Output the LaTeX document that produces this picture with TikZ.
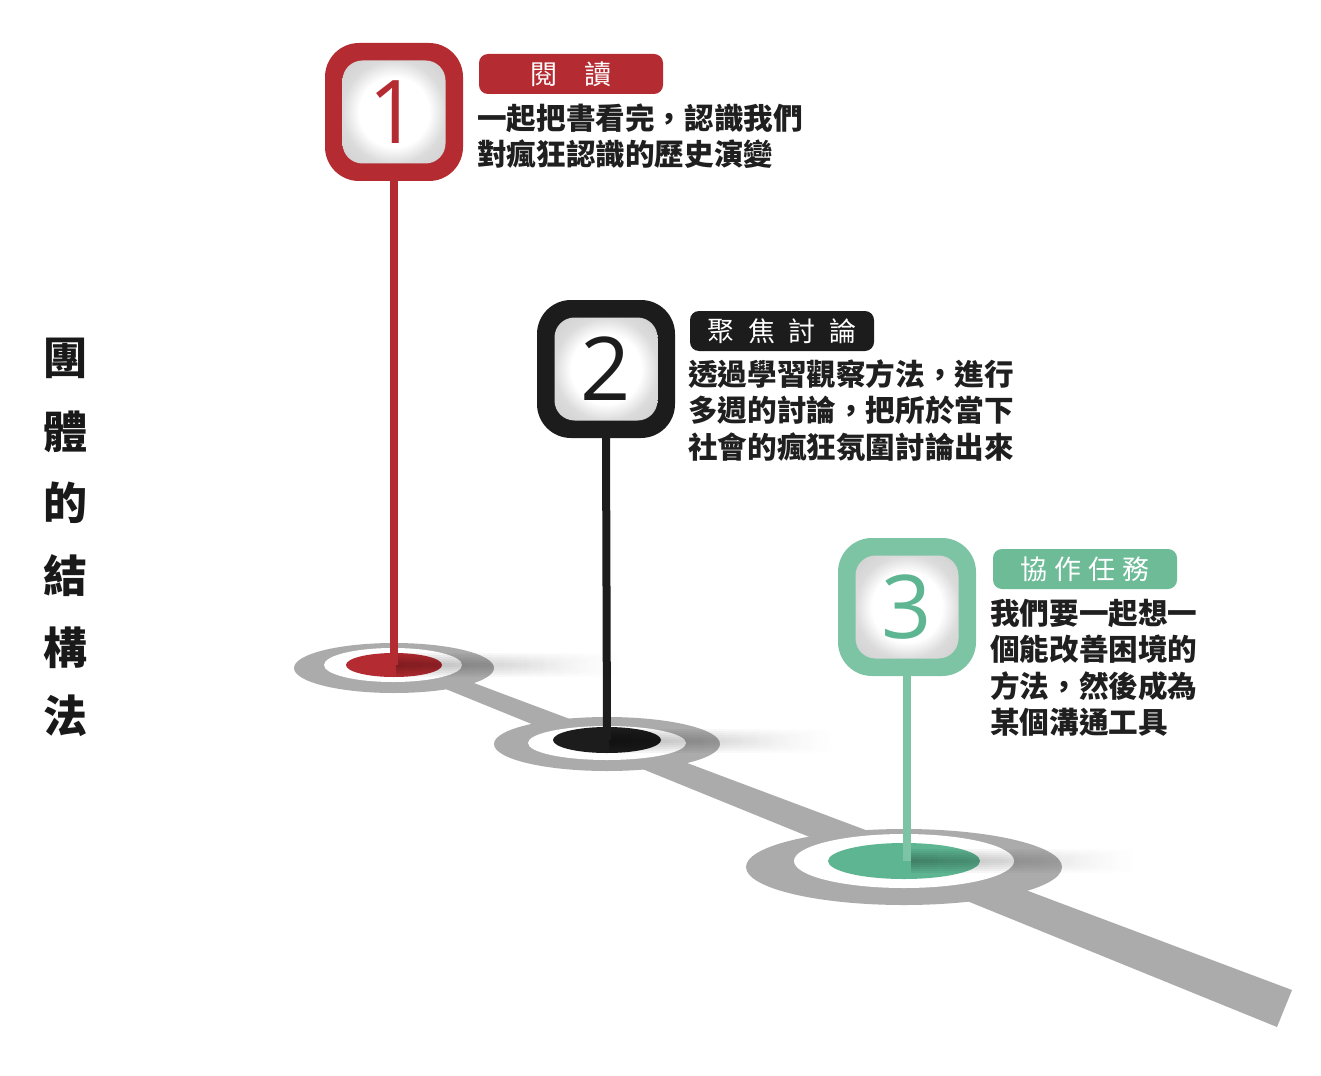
\documentclass[tikz,border=0pt]{standalone}
\usepackage{fontspec}
\setmainfont{Noto Sans CJK TC}
\newfontfamily\numfont{Open Sans}
\usetikzlibrary{fadings}
\definecolor{redA}{HTML}{B42B31}
\definecolor{blackA}{HTML}{1C1C1C}
\definecolor{greenBox}{HTML}{7CC4A4}
\definecolor{greenLab}{HTML}{6DBB97}
\definecolor{greenDisk}{HTML}{5DB592}
\definecolor{ringGray}{HTML}{ABABAB}
\pgfdeclareradialshading{pillow}{\pgfpoint{0bp}{0bp}}{color(0bp)=(white); color(17bp)=(white); color(25bp)=(black!14); color(50bp)=(black!26)}
\tikzset{
  pinbox/.style={rounded corners=34pt, minimum size=138pt, inner sep=0pt},
  face/.style={rounded corners=20pt, minimum size=103pt, inner sep=0pt, shading=pillow,
    font=\numfont\fontsize{88}{88}\selectfont},
  stemline/.style={line width=8pt},
  lab/.style={rounded corners=9pt, minimum width=184pt, minimum height=40pt, inner sep=0pt,
    text=white, font=\fontsize{27}{27}\selectfont},
  desc/.style={anchor=base west, inner sep=0pt, font=\bfseries\fontsize{29.6}{36}\selectfont, text=black!88},
  titlech/.style={inner sep=0pt, font=\bfseries\fontsize{44}{44}\selectfont, text=black!90},
  ring/.style={fill=ringGray},
  shad/.style={fill=black, path fading=east, opacity=0.05},
}
\begin{document}
\begin{tikzpicture}[x=1pt,y=-1pt]
\useasboundingbox (0,0) rectangle (1321,1075);

% base coordinates
\coordinate (b1) at (394,665);
\coordinate (b2) at (607,740);
\coordinate (b3) at (907,861);

% grey track
\fill[ringGray] (394,653) -- (1292,990) -- (1277,1027) -- (394,668) -- cycle;

% base 1
\fill[ring] (394,668) ellipse [x radius=100, y radius=25];
\fill[white] (393,665) ellipse [x radius=69, y radius=17];
\fill[redA] (b1) ellipse [x radius=48, y radius=12];
% base 2
\fill[ring] (607,744) ellipse [x radius=113, y radius=27];
\fill[white] (607,743) ellipse [x radius=79, y radius=17];
\fill[blackA] (b2) ellipse [x radius=54, y radius=13];
% base 3
\fill[ring] (904,867) ellipse [x radius=158, y radius=38];
\fill[white] (904,861) ellipse [x radius=110, y radius=27];
\fill[greenDisk] (904,861) ellipse [x radius=76, y radius=18];

% soft shadows
\foreach \h/\l in {12/230, 10/225, 8/215, 6/200, 4/185, 2/165}{
  \fill[shad] (396,665-\h) rectangle (396+\l,665+\h);
  \fill[shad] (609,741-\h) rectangle (609+\l,741+\h);
  \fill[shad] (911,861-\h) rectangle (911+\l,861+\h);
}

% pins
\node[pinbox, fill=redA] (p1) at (394,112) {};
\node[pinbox, fill=blackA] (p2) at (606,369) {};
\node[pinbox, fill=greenBox] (p3) at (907,607) {};

\draw[stemline, redA] (p1.south) -- (b1);
\draw[stemline, blackA] (p2.south) -- (b2);
\draw[stemline, greenBox] (p3.south) -- (b3);

\node[face, text=redA] (f1) at (p1) {1};
\node[face, text=blackA] (f2) at (p2) {2};
\node[face, text=greenDisk] (f3) at (p3) {3};

% labels
\node[lab, fill=redA] (l1) at (571,74) {閱　讀};
\node[lab, fill=blackA] (l2) at (782,331) {聚\hspace{0.5em}焦\hspace{0.5em}討\hspace{0.5em}論};
\node[lab, fill=greenLab] (l3) at (1085,569) {協\hspace{0.25em}作\hspace{0.25em}任\hspace{0.25em}務};

% descriptions
\node[desc] (d1a) at (477,130) {一起把書看完，認識我們};
\node[desc] (d1b) at (477,166) {對瘋狂認識的歷史演變};

\node[desc] (d2a) at (688,385) {透過學習觀察方法，進行};
\node[desc] (d2b) at (688,421) {多週的討論，把所於當下};
\node[desc] (d2c) at (688,458) {社會的瘋狂氛圍討論出來};

\node[desc] (d3a) at (990,624) {我們要一起想一};
\node[desc] (d3b) at (990,660) {個能改善困境的};
\node[desc] (d3c) at (990,697) {方法，然後成為};
\node[desc] (d3d) at (990,733) {某個溝通工具};

% vertical title
\node[titlech] (t1) at (65,358) {團};
\node[titlech] (t2) at (65,432) {體};
\node[titlech] (t3) at (65,503) {的};
\node[titlech] (t4) at (65,576) {結};
\node[titlech] (t5) at (65,648) {構};
\node[titlech] (t6) at (65,716) {法};
\end{tikzpicture}
\end{document}
